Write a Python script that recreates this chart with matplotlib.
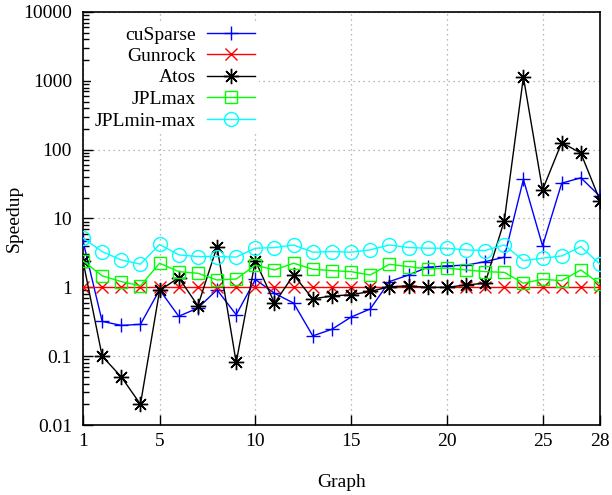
import matplotlib
matplotlib.use("Agg")
import matplotlib.pyplot as plt
from matplotlib.ticker import FixedLocator, FixedFormatter, LogLocator, NullFormatter

plt.rcParams['font.family'] = ['Liberation Serif', 'DejaVu Serif']

graphs = list(range(1, 29))
cusparse = [4.7, 0.32, 0.28, 0.29, 0.92, 0.38, 0.50, 0.92, 0.40, 1.3,
            0.82, 0.59, 0.197, 0.246, 0.37, 0.485, 1.21, 1.51, 1.96, 2.05,
            2.1, 2.36, 2.74, 37, 4.0, 32.6, 39, 21]
gunrock = [1, 1, 1, 1, 1, 1, 1, 1, 1, 1, 1, 1, 1, 1, 1, 1, 1, 1, 1, 1,
           1, 1, 1, 1, 1, 1, 1, 1]
atos = [2.42, 0.10, 0.05, 0.02, 0.90, 1.38, 0.54, 3.9, 0.081, 2.45,
        0.59, 1.51, 0.68, 0.75, 0.78, 0.87, 1.02, 1.05, 1.0, 1.0,
        1.08, 1.15, 9.3, 1130, 26, 127, 89, 18.2]
jplmax = [2.42, 1.47, 1.21, 1.05, 2.24, 1.69, 1.6, 1.28, 1.32, 2.1,
          1.79, 2.24, 1.83, 1.75, 1.69, 1.51, 2.16, 2.0, 1.85, 1.9,
          1.79, 1.69, 1.65, 1.15, 1.31, 1.25, 1.79, 1.12]
jplminmax = [5.2, 3.3, 2.5, 2.17, 4.2, 2.96, 2.8, 2.8, 2.75, 3.7,
             3.78, 4.13, 3.24, 3.3, 3.24, 3.5, 4.13, 3.78, 3.7, 3.7,
             3.5, 3.42, 4.13, 2.44, 2.65, 2.86, 3.9, 2.17]

xticks = [1, 5, 10, 15, 20, 25, 28]
yticks = [0.01, 0.1, 1, 10, 100, 1000, 10000]
ytick_labels = ["0.01", "0.1", "1", "10", "100", "1000", "10000"]

W, H = 612, 495
fig = plt.figure(figsize=(W / 100, H / 100), dpi=100)
ax = fig.add_axes([83 / W, 1 - 425 / H, (600 - 83) / W, (425 - 12) / H])

lw = 1.0
ax.plot(graphs, cusparse, color='#0000ff', lw=lw, marker='+', ms=10, mew=1.0, label='cuSparse', zorder=3)
ax.plot(graphs, gunrock, color='#ff0000', lw=lw, marker='x', ms=9, mew=1.0, label='Gunrock', zorder=3)
ax.plot(graphs, atos, color='#000000', lw=lw, marker=(8, 2, 0), ms=11, mew=1.0, label='Atos', zorder=3)
ax.plot(graphs, jplmax, color='#00ff00', lw=lw, marker='s', ms=9, mew=1.0, mfc='none', label='JPLmax', zorder=3)
ax.plot(graphs, jplminmax, color='#00ffff', lw=lw, marker='o', ms=10, mew=1.0, mfc='none', label='JPLmin-max', zorder=3)

ax.set_yscale('log')
ax.set_xlim(1, 28)
ax.set_ylim(0.01, 10000)

ax.xaxis.set_major_locator(FixedLocator(xticks))
ax.set_xticklabels([str(t) for t in xticks])
ax.yaxis.set_major_locator(FixedLocator(yticks))
ax.yaxis.set_major_formatter(FixedFormatter(ytick_labels))
ax.yaxis.set_minor_locator(LogLocator(base=10, subs=range(2, 10), numticks=20))
ax.yaxis.set_minor_formatter(NullFormatter())

ax.tick_params(axis='both', which='both', direction='in', top=False, right=False,
               labelsize=14, colors='black', width=1.0)
ax.tick_params(axis='both', which='major', length=7)
ax.tick_params(axis='y', which='minor', length=4)
ax.tick_params(axis='y', which='major', pad=8)
ax.tick_params(axis='x', which='major', pad=6)

for s in ax.spines.values():
    s.set_linewidth(1.2)
    s.set_color('black')

ax.grid(True, which='major', color='#a0a0a0', linestyle=(0, (1, 3)), linewidth=0.9)
ax.set_axisbelow(True)

ax.set_xlabel('Graph', fontsize=14, labelpad=17)
ax.set_ylabel('Speedup', fontsize=14, labelpad=0)

leg = ax.legend(loc='upper right', bbox_to_anchor=(259 / W, 1 - 22 / H),
                bbox_transform=fig.transFigure, markerfirst=False,
                frameon=True, fancybox=False, framealpha=1, facecolor='white',
                edgecolor='none', fontsize=14, handlelength=2.5,
                handletextpad=0.55, labelspacing=0.2, borderpad=0.2,
                borderaxespad=0)
leg.set_zorder(5)

fig.savefig('out.png', dpi=100)
